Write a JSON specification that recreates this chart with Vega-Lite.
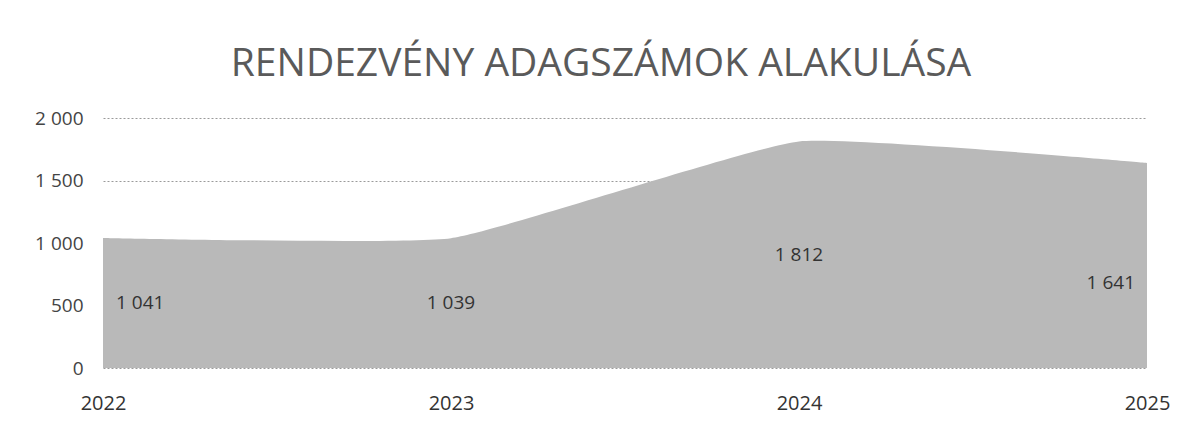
{
  "$schema": "https://vega.github.io/schema/vega-lite/v6.json",
  "autosize": "none",
  "width": 1044,
  "height": 250,
  "padding": {"left": 103, "top": 118, "right": 38, "bottom": 56},
  "background": "white",
  "title": {
    "text": "RENDEZVÉNY ADAGSZÁMOK ALAKULÁSA",
    "font": "Open Sans",
    "fontSize": 39,
    "fontWeight": 400,
    "color": "#5a5a5a",
    "anchor": "middle",
    "dx": -24,
    "offset": 25
  },
  "data": {
    "values": [
      {"year": "2022", "value": 1041},
      {"year": "2023", "value": 1039},
      {"year": "2024", "value": 1812},
      {"year": "2025", "value": 1641}
    ]
  },
  "transform": [
    {"calculate": "replace(format(datum.value, ','), ',', ' ')", "as": "label"},
    {"calculate": "datum.value / 2", "as": "mid"}
  ],
  "encoding": {
    "x": {
      "field": "year",
      "type": "ordinal",
      "scale": {"type": "point", "padding": 0},
      "axis": {
        "title": null,
        "labelAngle": 0,
        "labelFont": "Open Sans",
        "labelFontSize": 20,
        "labelColor": "#333333",
        "labelPadding": 25,
        "ticks": false,
        "domain": false,
        "grid": false
      }
    }
  },
  "layer": [
    {
      "mark": {"type": "area", "color": "#b9b9b9", "interpolate": "cardinal", "tension": 0.6},
      "encoding": {
        "y": {
          "field": "value",
          "type": "quantitative",
          "scale": {"domain": [0, 2000]},
          "axis": {
            "title": null,
            "values": [0, 500, 1000, 1500, 2000],
            "labelExpr": "replace(format(datum.value, ','), ',', ' ')",
            "labelFont": "Open Sans",
            "labelFontSize": 19,
            "labelColor": "#444444",
            "labelPadding": 20,
            "ticks": false,
            "domain": false,
            "grid": true,
            "gridColor": "#9a9a9a",
            "gridDash": [2, 2],
            "gridWidth": 1
          }
        }
      }
    },
    {
      "transform": [{"filter": "datum.year == '2022'"}],
      "mark": {"type": "text", "font": "Open Sans", "fontSize": 19, "color": "#333333", "align": "left", "dx": 13},
      "encoding": {"y": {"field": "mid", "type": "quantitative"}, "text": {"field": "label"}}
    },
    {
      "transform": [{"filter": "datum.year == '2023' || datum.year == '2024'"}],
      "mark": {"type": "text", "font": "Open Sans", "fontSize": 19, "color": "#333333", "align": "center"},
      "encoding": {"y": {"field": "mid", "type": "quantitative"}, "text": {"field": "label"}}
    },
    {
      "transform": [{"filter": "datum.year == '2025'"}],
      "mark": {"type": "text", "font": "Open Sans", "fontSize": 19, "color": "#333333", "align": "right", "dx": -12, "dy": 18},
      "encoding": {"y": {"field": "mid", "type": "quantitative"}, "text": {"field": "label"}}
    }
  ],
  "config": {"view": {"stroke": null}}
}
